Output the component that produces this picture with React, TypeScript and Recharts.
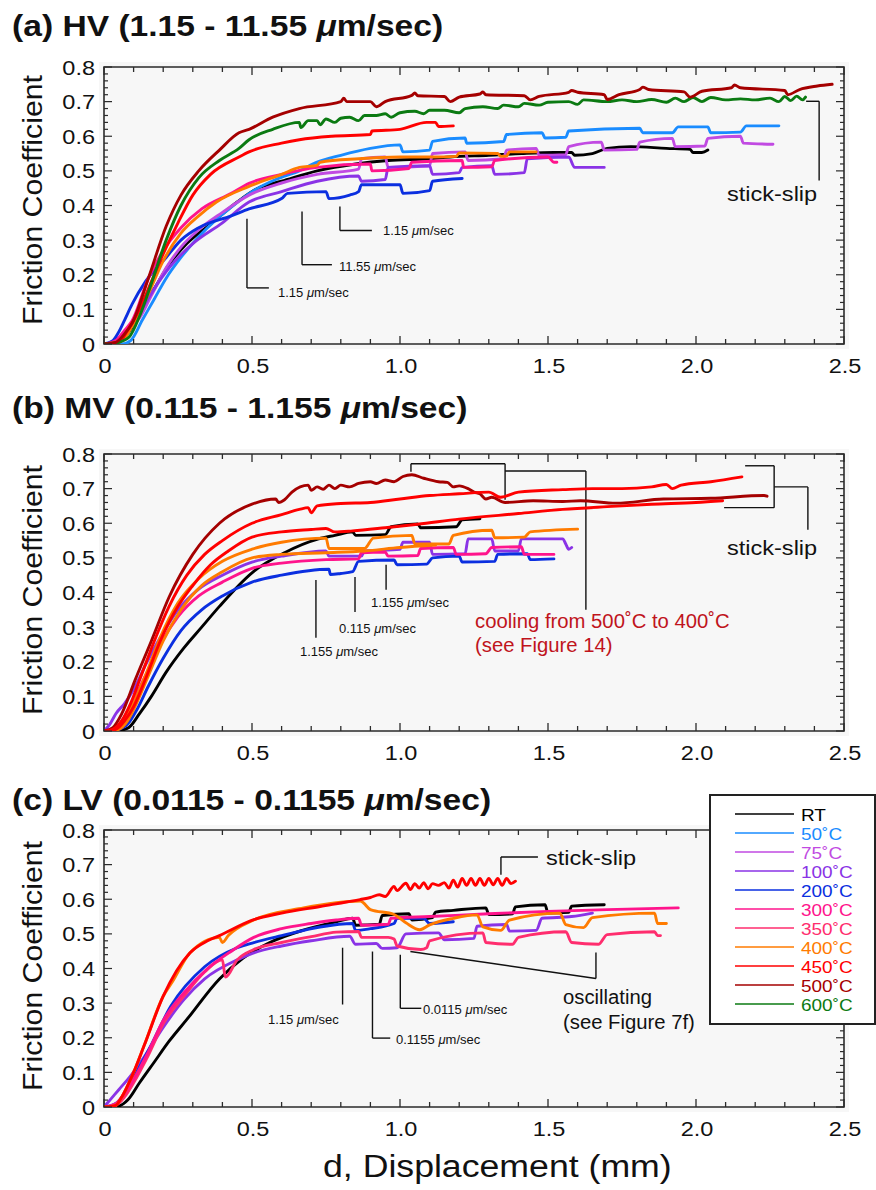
import React from 'react'
import { LineChart, Line, XAxis, YAxis, ReferenceArea, ReferenceLine } from 'recharts'

type Pt = [number, number]

// ---------- (a) HV : displacement (mm), friction coefficient ----------
const hvRT: Pt[] = [[0,0],[0.05,0.005],[0.08,0.03],[0.12,0.085],[0.17,0.16],[0.22,0.23],[0.28,0.29],[0.365,0.35],[0.45,0.41],[0.52,0.45],[0.6,0.47],[0.72,0.5],[0.85,0.52],[0.96,0.53],[1.1,0.535],[1.17,0.54],[1.3,0.545],[1.41,0.55],[1.52,0.553],[1.58,0.553],[1.59,0.545],[1.65,0.55],[1.7,0.565],[1.78,0.57],[1.9,0.565],[1.98,0.562],[1.99,0.553],[2.02,0.553],[2.04,0.56]]
const hv50: Pt[] = [[0,0],[0.06,0],[0.09,0.01],[0.13,0.07],[0.17,0.13],[0.21,0.19],[0.26,0.25],[0.32,0.31],[0.38,0.36],[0.43,0.395],[0.5,0.44],[0.58,0.475],[0.66,0.5],[0.72,0.525],[0.8,0.545],[0.9,0.565],[1.0,0.575],[1.01,0.555],[1.1,0.56],[1.11,0.585],[1.22,0.595],[1.225,0.58],[1.35,0.585],[1.36,0.605],[1.48,0.61],[1.49,0.595],[1.56,0.597],[1.57,0.615],[1.81,0.623],[1.82,0.61],[1.92,0.61],[1.94,0.627],[2.04,0.627],[2.05,0.61],[2.15,0.612],[2.17,0.63],[2.28,0.63]]
const hv75: Pt[] = [[0,0],[0.04,0.01],[0.08,0.04],[0.12,0.075],[0.16,0.14],[0.21,0.22],[0.26,0.28],[0.32,0.33],[0.4,0.38],[0.49,0.43],[0.6,0.465],[0.72,0.49],[0.86,0.505],[0.87,0.535],[0.95,0.54],[0.96,0.51],[1.1,0.515],[1.11,0.55],[1.22,0.555],[1.23,0.53],[1.35,0.535],[1.36,0.56],[1.46,0.565],[1.47,0.545],[1.56,0.547],[1.57,0.57],[1.68,0.583],[1.69,0.56],[1.8,0.562],[1.81,0.583],[1.92,0.594],[1.93,0.57],[2.03,0.572],[2.04,0.594],[2.15,0.6],[2.16,0.58],[2.26,0.577]]
const hv100: Pt[] = [[0,0],[0.04,0.01],[0.08,0.04],[0.12,0.09],[0.17,0.16],[0.22,0.22],[0.3,0.29],[0.4,0.35],[0.49,0.41],[0.6,0.44],[0.72,0.47],[0.86,0.485],[0.87,0.47],[0.95,0.475],[0.96,0.51],[1.1,0.515],[1.11,0.49],[1.2,0.495],[1.21,0.51],[1.31,0.515],[1.32,0.49],[1.42,0.495],[1.43,0.535],[1.57,0.54],[1.59,0.51],[1.69,0.51]]
const hv200: Pt[] = [[0,0],[0.03,0.01],[0.05,0.035],[0.07,0.07],[0.095,0.115],[0.14,0.18],[0.21,0.25],[0.26,0.3],[0.32,0.336],[0.43,0.37],[0.49,0.39],[0.6,0.42],[0.62,0.435],[0.75,0.44],[0.76,0.42],[0.83,0.43],[0.86,0.44],[0.87,0.46],[1.0,0.46],[1.01,0.435],[1.1,0.443],[1.11,0.47],[1.21,0.478]]
const hv300: Pt[] = [[0,0],[0.04,0.01],[0.07,0.04],[0.095,0.067],[0.15,0.19],[0.2,0.27],[0.26,0.336],[0.33,0.39],[0.43,0.435],[0.49,0.464],[0.6,0.49],[0.72,0.51],[0.9,0.52],[0.905,0.5],[1.03,0.507],[1.04,0.525],[1.21,0.53],[1.215,0.51],[1.31,0.512],[1.32,0.53],[1.5,0.54],[1.52,0.525],[1.53,0.525]]
const hv400: Pt[] = [[0,0],[0.05,0.005],[0.07,0.017],[0.1,0.06],[0.15,0.145],[0.2,0.24],[0.26,0.32],[0.32,0.37],[0.38,0.41],[0.49,0.455],[0.6,0.49],[0.66,0.51],[0.72,0.516],[0.73,0.525],[0.86,0.535],[1.0,0.54],[1.11,0.54],[1.19,0.542],[1.2,0.552],[1.33,0.55],[1.34,0.542],[1.36,0.543],[1.37,0.555],[1.46,0.555]]
const hv450: Pt[] = [[0,0],[0.05,0.005],[0.08,0.04],[0.12,0.1],[0.16,0.18],[0.2,0.26],[0.25,0.35],[0.3,0.43],[0.36,0.49],[0.456,0.54],[0.49,0.555],[0.6,0.58],[0.66,0.59],[0.77,0.6],[0.9,0.605],[0.905,0.615],[1.0,0.62],[1.09,0.64],[1.12,0.64],[1.13,0.628],[1.18,0.63]]
const hv500: Pt[] = [[0,0],[0.04,0.005],[0.07,0.03],[0.095,0.06],[0.15,0.19],[0.21,0.34],[0.26,0.43],[0.32,0.5],[0.39,0.56],[0.456,0.61],[0.49,0.62],[0.57,0.655],[0.66,0.68],[0.8,0.7],[0.81,0.71],[0.82,0.7],[0.9,0.7],[0.92,0.685],[0.95,0.7],[1.04,0.718],[1.05,0.725],[1.06,0.717],[1.15,0.715],[1.17,0.7],[1.2,0.713],[1.27,0.722],[1.28,0.728],[1.29,0.72],[1.42,0.717],[1.44,0.705],[1.47,0.715],[1.57,0.727],[1.58,0.732],[1.6,0.727],[1.69,0.72],[1.7,0.706],[1.74,0.72],[1.81,0.735],[1.82,0.742],[1.84,0.735],[1.96,0.728],[1.98,0.713],[2.02,0.73],[2.12,0.74],[2.13,0.748],[2.15,0.74],[2.3,0.732],[2.31,0.72],[2.35,0.735],[2.41,0.745],[2.46,0.75]]
const hv600: Pt[] = [[0,0],[0.05,0.005],[0.085,0.02],[0.12,0.08],[0.15,0.15],[0.21,0.3],[0.26,0.4],[0.32,0.48],[0.39,0.53],[0.456,0.565],[0.49,0.59],[0.57,0.62],[0.66,0.64],[0.665,0.625],[0.69,0.645],[0.72,0.645],[0.73,0.633],[0.75,0.65],[0.78,0.64],[0.8,0.652],[0.83,0.655],[0.86,0.645],[0.88,0.66],[0.92,0.66],[0.95,0.665],[0.97,0.655],[1.0,0.668],[1.05,0.672],[1.08,0.665],[1.1,0.675],[1.15,0.675],[1.2,0.668],[1.22,0.68],[1.28,0.685],[1.33,0.68],[1.35,0.69],[1.4,0.685],[1.42,0.695],[1.47,0.69],[1.5,0.698],[1.57,0.7],[1.6,0.692],[1.62,0.705],[1.7,0.7],[1.75,0.705],[1.8,0.7],[1.85,0.706],[1.9,0.698],[1.93,0.71],[1.96,0.7],[1.99,0.712],[2.02,0.7],[2.05,0.712],[2.1,0.705],[2.15,0.708],[2.2,0.705],[2.25,0.71],[2.28,0.7],[2.3,0.715],[2.32,0.703],[2.34,0.716],[2.36,0.705],[2.37,0.713]]

// ---------- (b) MV ----------
const mvRT: Pt[] = [[0,0],[0.06,0.003],[0.084,0.01],[0.12,0.05],[0.16,0.1],[0.21,0.17],[0.27,0.24],[0.33,0.3],[0.39,0.36],[0.5,0.457],[0.61,0.515],[0.725,0.555],[0.78,0.565],[0.84,0.575],[0.85,0.565],[0.95,0.567],[0.97,0.59],[1.06,0.598],[1.07,0.587],[1.19,0.59],[1.21,0.61],[1.27,0.613]]
const mv100: Pt[] = [[0,0],[0.02,0.02],[0.04,0.05],[0.07,0.08],[0.1,0.12],[0.14,0.19],[0.19,0.27],[0.25,0.35],[0.32,0.41],[0.4,0.45],[0.5,0.488],[0.6,0.505],[0.75,0.52],[0.76,0.505],[0.87,0.505],[0.88,0.52],[1.0,0.525],[1.01,0.545],[1.1,0.545],[1.11,0.51],[1.22,0.512],[1.23,0.555],[1.31,0.555],[1.32,0.52],[1.4,0.52],[1.41,0.555],[1.55,0.555],[1.56,0.54],[1.57,0.525],[1.58,0.53]]
const mv200: Pt[] = [[0,0],[0.05,0.005],[0.08,0.02],[0.11,0.06],[0.15,0.13],[0.2,0.21],[0.26,0.29],[0.33,0.35],[0.4,0.39],[0.5,0.43],[0.6,0.45],[0.76,0.467],[0.765,0.452],[0.8,0.455],[0.84,0.46],[0.86,0.49],[0.98,0.494],[0.99,0.48],[1.09,0.482],[1.11,0.5],[1.2,0.505],[1.21,0.488],[1.32,0.49],[1.33,0.51],[1.43,0.512],[1.44,0.495],[1.52,0.497]]
const mv300: Pt[] = [[0,0],[0.04,0.01],[0.07,0.04],[0.1,0.09],[0.14,0.16],[0.19,0.25],[0.25,0.33],[0.32,0.39],[0.4,0.43],[0.5,0.47],[0.6,0.485],[0.75,0.495],[0.86,0.497],[0.87,0.515],[0.95,0.517],[0.96,0.505],[1.06,0.507],[1.07,0.527],[1.18,0.53],[1.19,0.51],[1.29,0.512],[1.31,0.53],[1.41,0.532],[1.42,0.51],[1.52,0.51]]
const mv400a: Pt[] = [[0,0],[0.04,0.005],[0.07,0.03],[0.1,0.08],[0.14,0.16],[0.19,0.27],[0.25,0.37],[0.32,0.44],[0.4,0.49],[0.5,0.525],[0.6,0.545],[0.75,0.557],[0.76,0.527],[0.88,0.527],[0.91,0.557],[1.04,0.565],[1.05,0.54],[1.165,0.54],[1.18,0.565],[1.31,0.58],[1.32,0.558],[1.42,0.56],[1.44,0.575],[1.6,0.583]]
const mv400b: Pt[] = [[0,0],[0.05,0.005],[0.08,0.03],[0.11,0.08],[0.15,0.16],[0.2,0.26],[0.26,0.35],[0.33,0.42],[0.4,0.46],[0.5,0.5],[0.6,0.51],[0.75,0.515],[0.88,0.52],[1.0,0.53],[1.12,0.537]]
const mv450a: Pt[] = [[0,0],[0.03,0.005],[0.06,0.03],[0.09,0.08],[0.13,0.17],[0.17,0.26],[0.22,0.36],[0.28,0.45],[0.34,0.51],[0.4,0.55],[0.5,0.6],[0.6,0.625],[0.66,0.64],[0.69,0.645],[0.7,0.63],[0.72,0.65],[0.8,0.657],[0.9,0.66],[1.0,0.67],[1.1,0.68],[1.2,0.685],[1.3,0.69],[1.34,0.675],[1.4,0.69],[1.55,0.697],[1.65,0.7],[1.75,0.7],[1.85,0.705],[1.9,0.712],[1.92,0.7],[1.95,0.71],[2.05,0.72],[2.155,0.734]]
const mv450b: Pt[] = [[0,0],[0.04,0.005],[0.07,0.03],[0.1,0.07],[0.14,0.15],[0.19,0.26],[0.25,0.36],[0.3,0.42],[0.36,0.48],[0.42,0.52],[0.5,0.56],[0.6,0.575],[0.7,0.582],[0.75,0.585],[0.78,0.575],[0.84,0.578],[0.95,0.587],[1.06,0.597],[1.2,0.612],[1.4,0.628],[1.55,0.64],[1.7,0.648],[1.85,0.655],[2.0,0.66],[2.09,0.665]]
const mv500: Pt[] = [[0,0],[0.03,0.01],[0.06,0.05],[0.105,0.147],[0.16,0.26],[0.22,0.387],[0.3,0.51],[0.39,0.6],[0.5,0.655],[0.58,0.67],[0.59,0.66],[0.61,0.668],[0.635,0.69],[0.69,0.71],[0.7,0.695],[0.72,0.705],[0.74,0.698],[0.76,0.71],[0.78,0.7],[0.8,0.71],[0.83,0.705],[0.86,0.715],[0.9,0.72],[0.92,0.715],[0.95,0.725],[0.98,0.72],[1.01,0.735],[1.04,0.74],[1.08,0.73],[1.13,0.72],[1.16,0.718],[1.18,0.705],[1.2,0.708],[1.23,0.7],[1.25,0.69],[1.27,0.685],[1.29,0.67],[1.31,0.675],[1.355,0.66],[1.45,0.665],[1.55,0.663],[1.61,0.665],[1.73,0.658],[1.89,0.67],[2.05,0.672],[2.23,0.68],[2.24,0.678]]

// ---------- (c) LV ----------
const lvRT: Pt[] = [[0,0],[0.05,0.003],[0.08,0.02],[0.12,0.07],[0.17,0.13],[0.22,0.19],[0.28,0.253],[0.39,0.37],[0.47,0.43],[0.56,0.475],[0.67,0.51],[0.785,0.535],[0.84,0.545],[0.85,0.525],[0.93,0.528],[0.94,0.553],[1.03,0.558],[1.04,0.54],[1.11,0.547],[1.12,0.563],[1.18,0.568],[1.29,0.575],[1.3,0.556],[1.38,0.558],[1.39,0.578],[1.49,0.584],[1.5,0.56],[1.57,0.562],[1.58,0.58],[1.69,0.584]]
const lv100: Pt[] = [[0,0],[0.02,0.02],[0.05,0.05],[0.09,0.09],[0.14,0.15],[0.2,0.23],[0.27,0.31],[0.34,0.37],[0.45,0.425],[0.506,0.445],[0.6,0.465],[0.7,0.48],[0.83,0.493],[0.85,0.47],[0.92,0.472],[0.94,0.458],[0.99,0.46],[1.02,0.5],[1.13,0.503],[1.15,0.483],[1.25,0.487],[1.26,0.522],[1.36,0.527],[1.37,0.508],[1.46,0.51],[1.48,0.545],[1.58,0.55],[1.65,0.56]]
const lv200: Pt[] = [[0,0],[0.04,0.01],[0.07,0.04],[0.11,0.1],[0.16,0.18],[0.225,0.29],[0.34,0.405],[0.45,0.46],[0.506,0.475],[0.6,0.495],[0.73,0.52],[0.84,0.53],[0.85,0.51],[0.9,0.515],[0.98,0.53],[0.99,0.545],[1.08,0.545],[1.1,0.53],[1.18,0.535]]
const lv300: Pt[] = [[0,0],[0.04,0.01],[0.07,0.04],[0.1,0.08],[0.15,0.16],[0.2,0.25],[0.27,0.33],[0.35,0.4],[0.43,0.45],[0.506,0.49],[0.6,0.515],[0.7,0.53],[0.785,0.54],[0.86,0.545],[0.87,0.525],[0.96,0.528],[0.97,0.545],[1.1,0.55],[1.3,0.558],[1.5,0.565],[1.7,0.57],[1.94,0.575]]
const lv350: Pt[] = [[0,0],[0.04,0.005],[0.07,0.03],[0.1,0.07],[0.15,0.15],[0.2,0.24],[0.27,0.32],[0.34,0.39],[0.4,0.425],[0.41,0.375],[0.45,0.425],[0.506,0.455],[0.6,0.475],[0.7,0.492],[0.785,0.505],[0.86,0.507],[0.87,0.49],[0.96,0.49],[0.98,0.485],[0.99,0.465],[1.07,0.455],[1.09,0.46],[1.1,0.48],[1.28,0.503],[1.29,0.475],[1.38,0.47],[1.4,0.49],[1.56,0.506],[1.58,0.475],[1.67,0.47],[1.7,0.498],[1.86,0.506],[1.87,0.495],[1.88,0.495]]
const lv400: Pt[] = [[0,0],[0.04,0.005],[0.056,0.023],[0.1,0.1],[0.135,0.176],[0.2,0.32],[0.23,0.36],[0.29,0.445],[0.39,0.49],[0.4,0.475],[0.42,0.495],[0.506,0.54],[0.674,0.575],[0.866,0.595],[0.876,0.59],[0.9,0.57],[0.98,0.556],[1.02,0.532],[1.067,0.512],[1.1,0.526],[1.18,0.545],[1.26,0.555],[1.28,0.52],[1.34,0.51],[1.37,0.54],[1.54,0.56],[1.56,0.527],[1.62,0.518],[1.65,0.547],[1.86,0.56],[1.87,0.53],[1.9,0.53]]
const lv450: Pt[] = [[0,0],[0.04,0.005],[0.056,0.023],[0.1,0.1],[0.135,0.176],[0.2,0.32],[0.29,0.445],[0.35,0.48],[0.39,0.495],[0.506,0.541],[0.6,0.56],[0.73,0.579],[0.865,0.599],[0.9,0.605],[0.93,0.613],[0.95,0.608],[0.98,0.637],[0.99,0.625],[1.02,0.646],[1.035,0.628],[1.05,0.645],[1.065,0.632],[1.08,0.648],[1.095,0.63],[1.11,0.645],[1.13,0.64],[1.15,0.648],[1.165,0.632],[1.18,0.655],[1.195,0.635],[1.21,0.66],[1.225,0.64],[1.24,0.66],[1.255,0.64],[1.27,0.66],[1.285,0.64],[1.3,0.66],[1.315,0.642],[1.33,0.66],[1.345,0.64],[1.36,0.66],[1.375,0.645],[1.39,0.652]]

// ---------- legend / axes ----------
const legendNames = ['RT', '50˚C', '75˚C', '100˚C', '200˚C', '300˚C', '350˚C', '400˚C', '450˚C', '500˚C', '600˚C']
const legendColors = ['#000000', '#1a8cff', '#c14ae2', '#8a33e6', '#0b2fe0', '#ff148c', '#ff2d6e', '#ff7b00', '#ff0000', '#a50000', '#0b7a12']
const xMajor = [0, 0.5, 1, 1.5, 2, 2.5]
const xLabels = ['0', '0.5', '1.0', '1.5', '2.0', '2.5']
const yMajor = [0, 0.1, 0.2, 0.3, 0.4, 0.5, 0.6, 0.7, 0.8]
const yLabels = ['0', '0.1', '0.2', '0.3', '0.4', '0.5', '0.6', '0.7', '0.8']
const xTicks = Array.from({ length: 26 }, (_, i) => i / 10)
const yTicks = Array.from({ length: 41 }, (_, i) => i / 50)

const col = (name: string) => legendColors[legendNames.indexOf(name)]

interface Curve { id: string; color: string; pts: Pt[] }
const hvCurves: Curve[] = [
  { id: 'RT', color: col('RT'), pts: hvRT },
  { id: '50', color: col('50˚C'), pts: hv50 },
  { id: '75', color: col('75˚C'), pts: hv75 },
  { id: '100', color: col('100˚C'), pts: hv100 },
  { id: '200', color: col('200˚C'), pts: hv200 },
  { id: '300', color: col('300˚C'), pts: hv300 },
  { id: '400', color: col('400˚C'), pts: hv400 },
  { id: '450', color: col('450˚C'), pts: hv450 },
  { id: '600', color: col('600˚C'), pts: hv600 },
  { id: '500', color: col('500˚C'), pts: hv500 },
]
const mvCurves: Curve[] = [
  { id: 'RT', color: col('RT'), pts: mvRT },
  { id: '100', color: col('100˚C'), pts: mv100 },
  { id: '200', color: col('200˚C'), pts: mv200 },
  { id: '300', color: col('300˚C'), pts: mv300 },
  { id: '400a', color: col('400˚C'), pts: mv400a },
  { id: '400b', color: col('400˚C'), pts: mv400b },
  { id: '450b', color: col('450˚C'), pts: mv450b },
  { id: '500', color: col('500˚C'), pts: mv500 },
  { id: '450a', color: col('450˚C'), pts: mv450a },
]
const lvCurves: Curve[] = [
  { id: 'RT', color: col('RT'), pts: lvRT },
  { id: '100', color: col('100˚C'), pts: lv100 },
  { id: '200', color: col('200˚C'), pts: lv200 },
  { id: '350', color: col('350˚C'), pts: lv350 },
  { id: '300', color: col('300˚C'), pts: lv300 },
  { id: '400', color: col('400˚C'), pts: lv400 },
  { id: '450', color: col('450˚C'), pts: lv450 },
]

// annotation leader lines, in data units
type Seg = [Pt, Pt]
const hvSegs: Seg[] = [
  [[0.483, 0.362], [0.483, 0.162]], [[0.483, 0.162], [0.557, 0.162]],
  [[0.669, 0.383], [0.669, 0.229]], [[0.669, 0.229], [0.77, 0.229]],
  [[0.797, 0.397], [0.797, 0.328]], [[0.797, 0.328], [0.905, 0.328]],
  [[2.372, 0.701], [2.416, 0.701]], [[2.416, 0.701], [2.416, 0.472]],
]
const mvSegs: Seg[] = [
  [[0.716, 0.436], [0.716, 0.269]],
  [[0.848, 0.445], [0.848, 0.344]],
  [[0.953, 0.48], [0.953, 0.408]],
  [[1.037, 0.749], [1.037, 0.772]], [[1.037, 0.772], [1.355, 0.772]], [[1.355, 0.772], [1.355, 0.668]],
  [[1.355, 0.751], [1.628, 0.751]], [[1.628, 0.751], [1.628, 0.35]],
  [[2.166, 0.766], [2.264, 0.766]], [[2.264, 0.766], [2.264, 0.645]], [[2.264, 0.645], [2.095, 0.645]],
  [[2.264, 0.705], [2.378, 0.705]], [[2.378, 0.705], [2.378, 0.581]],
]
const lvSegs: Seg[] = [
  [[0.806, 0.46], [0.806, 0.296]],
  [[0.907, 0.449], [0.907, 0.199]], [[0.907, 0.199], [0.967, 0.199]],
  [[1.001, 0.44], [1.001, 0.285]], [[1.001, 0.285], [1.072, 0.285]],
  [[1.035, 0.449], [1.662, 0.371]], [[1.662, 0.371], [1.662, 0.446]],
  [[1.341, 0.671], [1.341, 0.722]], [[1.341, 0.722], [1.466, 0.722]],
]

const FONT = '"Liberation Sans", Arial, Helvetica, sans-serif'
const PL = 104   // plot left
const PW = 740   // plot width
const PH = 277   // plot height
const MT = 20
const CH = MT + PH + 50
const INK = '#2b2b2b'
const ROW = 19   // legend row pitch

const near = (arr: number[], v: number) => arr.findIndex(a => Math.abs(a - v) < 1e-9)

function XTick(p: any) {
  const { x, y, payload } = p
  const i = near(xMajor, payload.value)
  const len = i >= 0 ? 8 : 5
  return (
    <g>
      <line x1={x} x2={x} y1={y} y2={y - len} stroke={INK} strokeWidth={1.3} />
      <line x1={x} x2={x} y1={y - PH} y2={y - PH + len} stroke={INK} strokeWidth={1.3} />
      {i >= 0 && (
        <text transform={`translate(${x + 1},${y + 29}) scale(1.12,1)`} textAnchor="middle"
          fontSize={21} fontFamily={FONT} fill="#111">{xLabels[i]}</text>
      )}
    </g>
  )
}

function YTick(p: any) {
  const { x, y, payload } = p
  const i = near(yMajor, payload.value)
  const len = i >= 0 ? 8 : 4
  return (
    <g>
      <line x1={x} x2={x + len} y1={y} y2={y} stroke={INK} strokeWidth={1.2} />
      <line x1={x + PW} x2={x + PW - len} y1={y} y2={y} stroke={INK} strokeWidth={1.2} />
      {i >= 0 && (
        <text transform={`translate(${x - 9},${y + 7.5}) scale(1.12,1)`} textAnchor="end"
          fontSize={21} fontFamily={FONT} fill="#111">{yLabels[i]}</text>
      )}
    </g>
  )
}

function Panel({ top, curves, segs }: { top: number; curves: Curve[]; segs: Seg[] }) {
  return (
    <div style={{ position: 'absolute', left: 0, top: top - MT, width: 876, height: CH }}>
      <div style={{ position: 'absolute', left: PL - 5, top: MT - 5, width: PW + 10, height: PH + 10, background: '#f7f7f7' }} />
      <LineChart width={876} height={CH} margin={{ top: MT, right: 876 - PL - PW, bottom: 0, left: 0 }}
        style={{ position: 'absolute', left: 0, top: 0 }}>
        <XAxis type="number" dataKey="d" domain={[0, 2.5]} ticks={xTicks} interval={0} allowDataOverflow
          axisLine={false} tickLine={false} tickSize={0} tickMargin={0} height={50}
          tick={(p: any) => <XTick {...p} />} />
        <YAxis type="number" domain={[0, 0.8]} ticks={yTicks} interval={0} allowDataOverflow
          axisLine={false} tickLine={false} tickSize={0} tickMargin={0} width={PL}
          tick={(p: any) => <YTick {...p} />} />
        <ReferenceArea x1={0} x2={2.5} y1={0} y2={0.8} fill="none" stroke={INK} strokeWidth={1.6} />
        {segs.map((s, i) => (
          <ReferenceLine key={i} segment={[{ x: s[0][0], y: s[0][1] }, { x: s[1][0], y: s[1][1] }]}
            stroke="#111" strokeWidth={1.4} />
        ))}
        {curves.map(c => (
          <Line key={c.id} name={c.id} data={c.pts.map(([d, mu]) => ({ d, mu }))} dataKey="mu"
            type="monotone" stroke={c.color} strokeWidth={2.9} dot={false} activeDot={false}
            strokeLinejoin="round" strokeLinecap="round" isAnimationActive={false} />
        ))}
      </LineChart>
    </div>
  )
}

function T({ x, y, s, k = 1, bold, color = '#111', lh = 1, children }: any) {
  return (
    <div style={{
      position: 'absolute', left: x, top: y, fontSize: s, fontWeight: bold ? 700 : 400, color,
      whiteSpace: 'nowrap', lineHeight: lh, transform: `translateY(-50%) scaleX(${k})`, transformOrigin: '0 50%',
    }}>{children}</div>
  )
}

function YLabel({ y }: { y: number }) {
  return (
    <div style={{
      position: 'absolute', left: 33, top: y, fontSize: 28, lineHeight: 1, whiteSpace: 'nowrap', color: '#111',
      transform: 'translate(-50%,-50%) rotate(-90deg) scaleX(1.08)',
    }}>Friction Coefficient</div>
  )
}

const mu = <i>μ</i>

export default function App() {
  return (
    <div style={{ position: 'absolute', left: 0, top: 0, width: 876, height: 1190, overflow: 'hidden', background: '#fff', fontFamily: FONT }}>
      <Panel top={67} curves={hvCurves} segs={hvSegs} />
      <Panel top={454} curves={mvCurves} segs={mvSegs} />
      <Panel top={830} curves={lvCurves} segs={lvSegs} />

      <T x={12} y={26} s={30} k={1.12} bold>(a) HV (1.15 - 11.55 {mu}m/sec)</T>
      <T x={12} y={408} s={30} k={1.12} bold>(b) MV (0.115 - 1.155 {mu}m/sec)</T>
      <T x={12} y={800} s={30} k={1.12} bold>(c) LV (0.0115 - 0.1155 {mu}m/sec)</T>

      <YLabel y={200} />
      <YLabel y={590} />
      <YLabel y={966} />
      <T x={323} y={1166} s={31} k={1.15}>d, Displacement (mm)</T>

      <T x={278} y={292} s={13}>1.15 {mu}m/sec</T>
      <T x={339} y={266} s={13}>11.55 {mu}m/sec</T>
      <T x={383} y={230} s={13}>1.15 {mu}m/sec</T>
      <T x={727} y={193} s={21} k={1.12}>stick-slip</T>

      <T x={300} y={651} s={13}>1.155 {mu}m/sec</T>
      <T x={339} y={628} s={13}>0.115 {mu}m/sec</T>
      <T x={371} y={602} s={13}>1.155 {mu}m/sec</T>
      <T x={475} y={622} s={19.5} k={1.04} color="#c0141c">cooling from 500˚C to 400˚C</T>
      <T x={475} y={646} s={19.5} k={1.04} color="#c0141c">(see Figure 14)</T>
      <T x={727} y={547} s={21} k={1.12}>stick-slip</T>

      <T x={268} y={1019} s={13}>1.15 {mu}m/sec</T>
      <T x={396} y={1039} s={13}>0.1155 {mu}m/sec</T>
      <T x={423} y={1009} s={13}>0.0115 {mu}m/sec</T>
      <T x={563} y={998} s={19.5} k={1.04}>oscillating</T>
      <T x={563} y={1023} s={19.5} k={1.04}>(see Figure 7f)</T>
      <T x={546} y={857} s={21} k={1.12}>stick-slip</T>

      <div style={{ position: 'absolute', left: 709, top: 794, width: 167, height: 22 + ROW * 11, border: '2px solid #222', boxSizing: 'border-box', background: '#fff' }}>
        <svg width={163} height={18 + ROW * 11} style={{ position: 'absolute', left: 0, top: 0 }}>
          {legendNames.map((n, i) => (
            <line key={n} x1={24} x2={83} y1={18 + ROW * i} y2={18 + ROW * i} stroke={legendColors[i]} strokeWidth={1.6} />
          ))}
        </svg>
        {legendNames.map((n, i) => (
          <T key={n} x={90} y={19 + ROW * i} s={16.5} k={1.15} lh="16px" color={legendColors[i]}>{n}</T>
        ))}
      </div>
    </div>
  )
}
